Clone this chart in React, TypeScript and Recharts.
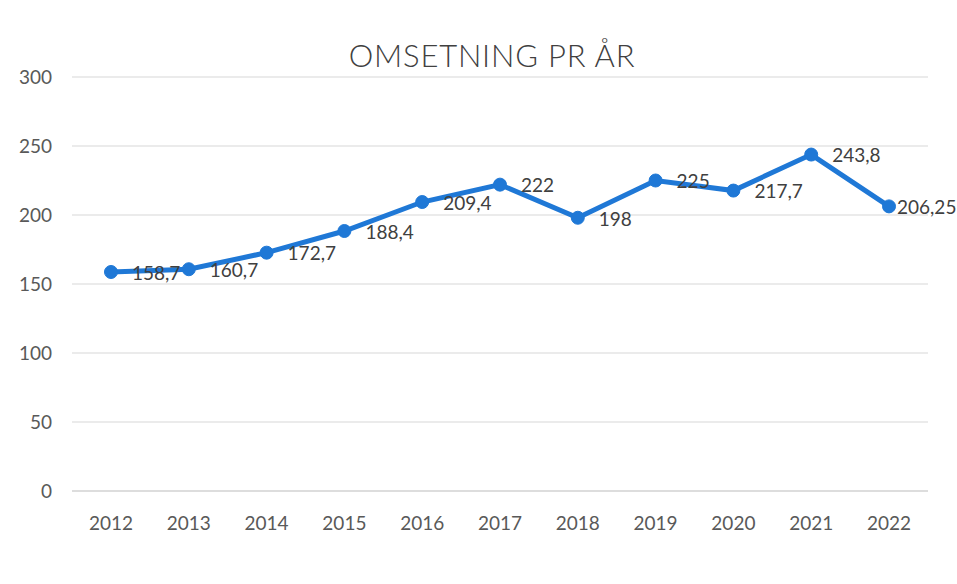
import React from 'react';
import { LineChart, Line, XAxis, YAxis, CartesianGrid, LabelList } from 'recharts';

const years = ['2012', '2013', '2014', '2015', '2016', '2017', '2018', '2019', '2020', '2021', '2022'];
const omsetning = [158.7, 160.7, 172.7, 188.4, 209.4, 222, 198, 225, 217.7, 243.8, 206.25];
const yTicks = [0, 50, 100, 150, 200, 250, 300];

const data = years.map((year, i) => ({ year, value: omsetning[i] }));

const FONT = 'Lato, "Liberation Sans", sans-serif';
const BLUE = '#1f78d6';

function formatNo(v: any) {
  return String(v).replace('.', ',');
}

// data label to the right of each point, like Excel's "right" position
// (the last one sits tight against its point, as in the original)
function ValueLabel(props: any) {
  const { x, y, value, index } = props;
  const dx = index === years.length - 1 ? 8 : 21;
  return (
    <text x={x + dx} y={y + 3} fontSize={19} fill="#404040" fontFamily={FONT} dominantBaseline="middle">
      {formatNo(value)}
    </text>
  );
}

export default function App() {
  return (
    <div style={{ position: 'absolute', left: 0, top: 0, width: 957, height: 584, background: '#fff' }}>
      <div
        style={{
          position: 'absolute',
          top: 36,
          left: 492,
          transform: 'translateX(-50%)',
          fontFamily: FONT,
          fontSize: 31,
          fontWeight: 300,
          color: '#404040',
          whiteSpace: 'nowrap',
          letterSpacing: 0.8,
        }}
      >
        OMSETNING PR ÅR
      </div>
      <LineChart width={957} height={584} data={data} margin={{ top: 77, right: 29, left: 0, bottom: 63 }}>
        <CartesianGrid vertical={false} stroke="#e4e4e4" strokeWidth={1.5} />
        <XAxis
          dataKey="year"
          padding={{ left: 39, right: 39 }}
          axisLine={{ stroke: '#d9d9d9', strokeWidth: 1.5 }}
          tickLine={false}
          tickSize={0}
          tickMargin={26}
          height={30}
          tick={{ fill: '#595959', fontSize: 19, fontFamily: FONT }}
        />
        <YAxis
          domain={[0, 300]}
          ticks={yTicks}
          axisLine={false}
          tickLine={false}
          tickSize={0}
          tickMargin={20}
          width={72}
          tick={{ fill: '#595959', fontSize: 19, fontFamily: FONT }}
        />
        <Line
          type="linear"
          dataKey="value"
          stroke={BLUE}
          strokeWidth={5}
          dot={{ r: 6.5, fill: BLUE, stroke: BLUE, strokeWidth: 1 }}
          activeDot={false}
          isAnimationActive={false}
        >
          <LabelList dataKey="value" content={<ValueLabel />} />
        </Line>
      </LineChart>
    </div>
  );
}
